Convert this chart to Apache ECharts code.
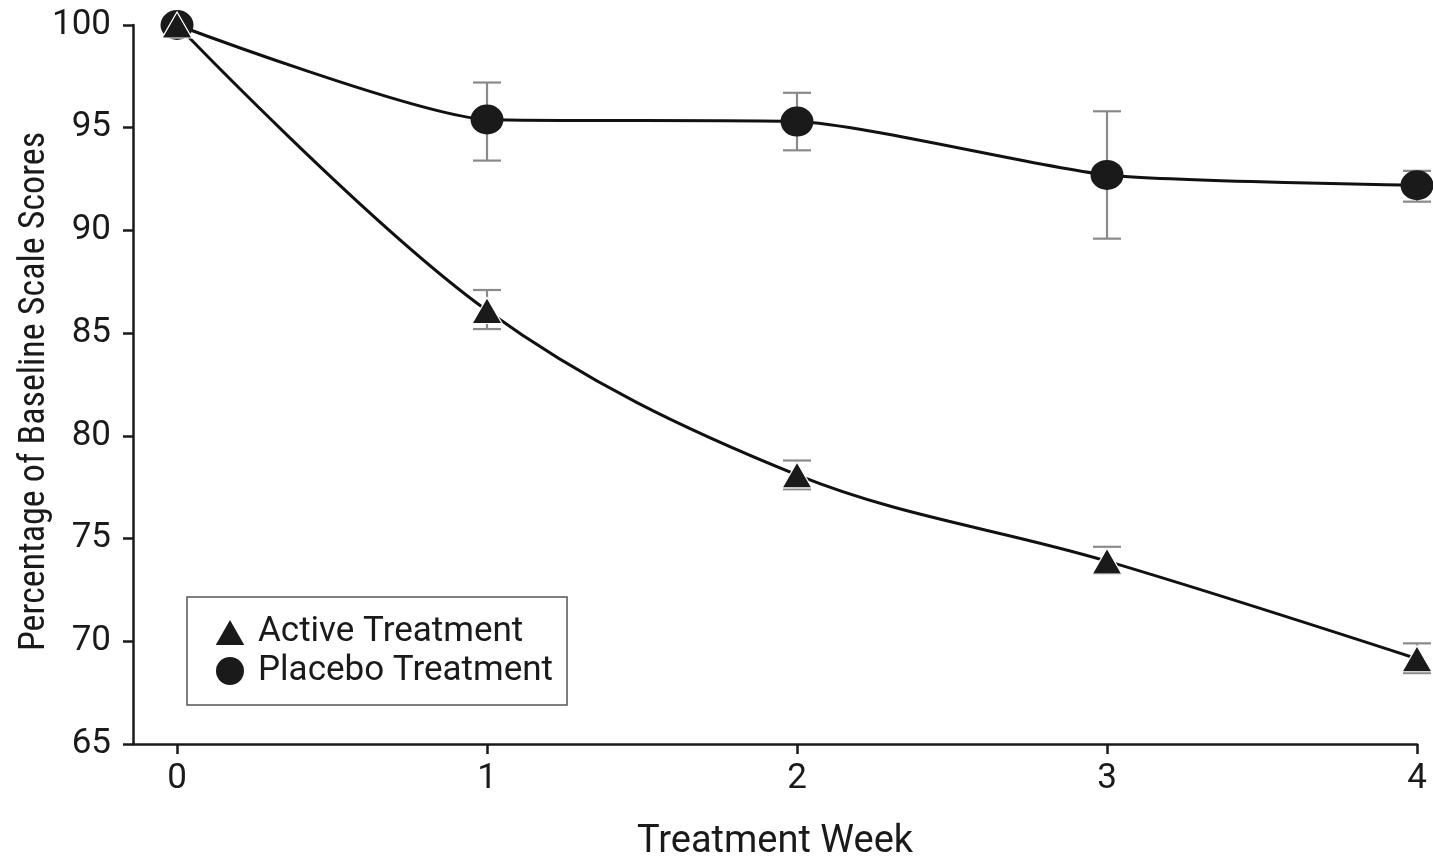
<!DOCTYPE html>
<html><head><meta charset="utf-8">
<script src="https://cdn.jsdelivr.net/npm/echarts@6/dist/echarts.min.js"></script>
<style>html,body{margin:0;padding:0;background:#fff}#c{width:1433px;height:856px}</style>
</head><body><div id="c"></div>
<script>
const weeks = [0, 1, 2, 3, 4];
const activeMean = [100, 86.1, 78.1, 73.9, 69.15];
const activeLow  = [100, 85.2, 77.4, 73.3, 68.45];
const activeHigh = [100, 87.1, 78.8, 74.6, 69.9];
const placeboMean = [100, 95.4, 95.3, 92.7, 92.2];
const placeboLow  = [100, 93.4, 93.9, 89.6, 91.4];
const placeboHigh = [100, 97.2, 96.7, 95.8, 92.9];
const yTicks = [65, 70, 75, 80, 85, 90, 95, 100];

const FONT = "Roboto, 'Liberation Sans', sans-serif";
const NARROW = "'Liberation Sans Narrow', 'Roboto Condensed', 'DejaVu Sans Condensed', Roboto, sans-serif";
const chart = echarts.init(document.getElementById('c'));

function pairs(m) { return weeks.map((w, i) => [w, m[i]]); }
function errData(lo, hi) { return weeks.map((w, i) => [w, lo[i], hi[i]]).filter(d => d[1] !== d[2]); }

function errRender(params, api) {
  const x = api.value(0);
  const lo = api.coord([x, api.value(1)]);
  const hi = api.coord([x, api.value(2)]);
  const hw = 14;
  const st = { stroke: '#8a8a8a', lineWidth: 2.2 };
  return {
    type: 'group',
    children: [
      { type: 'line', shape: { x1: lo[0], y1: lo[1], x2: hi[0], y2: hi[1] }, style: st },
      { type: 'line', shape: { x1: lo[0] - hw, y1: lo[1], x2: lo[0] + hw, y2: lo[1] }, style: st },
      { type: 'line', shape: { x1: hi[0] - hw, y1: hi[1], x2: hi[0] + hw, y2: hi[1] }, style: st }
    ]
  };
}

chart.setOption({
  animation: false,
  textStyle: { fontFamily: FONT },
  grid: { left: 133, right: 16, top: 25, bottom: 112, containLabel: false, outerBoundsMode: 'none' },
  legend: {
    orient: 'vertical', left: 187, top: 597,
    padding: [17, 14, 16, 26],
    itemGap: 3, itemWidth: 32, itemHeight: 28,
    borderColor: '#555', borderWidth: 1.5,
    textStyle: { fontSize: 35, lineHeight: 36, color: '#1a1a1a', fontFamily: FONT, padding: [0, 0, 0, 7] },
    data: [
      { name: 'Active Treatment', icon: 'triangle' },
      { name: 'Placebo Treatment', icon: 'circle' }
    ]
  },
  xAxis: {
    type: 'value', min: -0.142, max: 4,
    name: 'Treatment Week', nameLocation: 'middle', nameGap: 79, nameMoveOverlap: false,
    nameTextStyle: { fontSize: 38, color: '#1a1a1a', fontFamily: FONT },
    axisLine: { onZero: false, lineStyle: { color: '#1a1a1a', width: 2.5 } },
    axisTick: { customValues: weeks, length: 10, lineStyle: { color: '#1a1a1a', width: 2.5 } },
    axisLabel: { customValues: weeks, fontSize: 35, color: '#1a1a1a', margin: 18, fontFamily: FONT },
    splitLine: { show: false }
  },
  yAxis: {
    type: 'value', min: 65, max: 100, interval: 5,
    name: 'Percentage of Baseline Scale Scores', nameLocation: 'middle', nameGap: 80, nameMoveOverlap: false,
    nameTextStyle: { fontSize: 36, color: '#1a1a1a', fontFamily: NARROW, padding: [0, 14, 0, 0] },
    axisLine: { show: true, onZero: false, lineStyle: { color: '#1a1a1a', width: 2.5 } },
    axisTick: { show: true, length: 10, lineStyle: { color: '#1a1a1a', width: 2.5 } },
    axisLabel: { fontSize: 35, color: '#1a1a1a', margin: 22, fontFamily: FONT,
      formatter: v => yTicks.includes(v) ? String(v) : '' },
    splitLine: { show: false }
  },
  series: [
    { type: 'custom', name: 'errP', renderItem: errRender, data: errData(placeboLow, placeboHigh), z: 1, silent: true },
    { type: 'custom', name: 'errA', renderItem: errRender, data: errData(activeLow, activeHigh), z: 1, silent: true },
    {
      type: 'line', name: 'Placebo Treatment', data: pairs(placeboMean), smooth: 0.2,
      symbol: 'circle', symbolSize: [33, 30],
      lineStyle: { color: '#111', width: 3 },
      itemStyle: { color: '#1a1a1a', opacity: 1 }, z: 2
    },
    {
      type: 'line', name: 'Active Treatment', data: pairs(activeMean), smooth: 0.35,
      symbol: 'triangle', symbolSize: [30, 26],
      lineStyle: { color: '#111', width: 3 },
      itemStyle: { color: '#1a1a1a', opacity: 1, borderColor: '#fff', borderWidth: 1.2 }, z: 3
    }
  ]
});
</script></body></html>
